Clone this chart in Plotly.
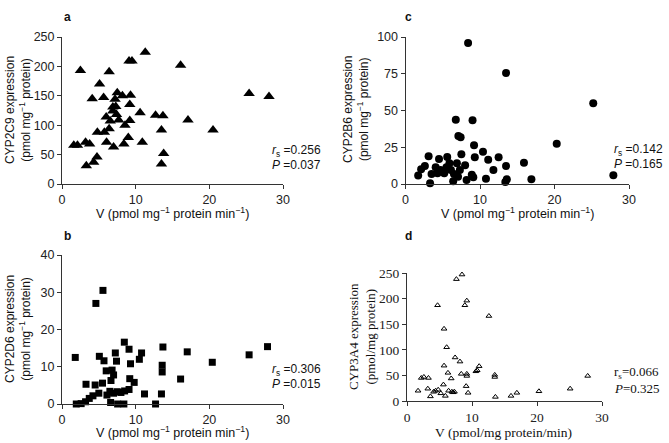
import plotly.graph_objects as go

W, H = 669, 443

# panel a: CYP2C9 expression vs V
a_v = [11.3, 9.1, 9.5, 2.5, 6.4, 16.1, 5.1, 4.1, 5.65, 7.5, 8.2, 9.3, 7.2, 25.4, 28.1,
       6.9, 7.3, 9.2, 6.9, 7.4, 6.0, 10.6, 12.7, 13.7, 6.55, 7.7, 9.2, 17.1, 8.55,
       4.8, 5.75, 6.4, 13.5, 20.5, 9.0, 1.6, 2.1, 3.2, 3.75, 6.05, 7.0, 8.4, 10.9,
       4.75, 13.8, 3.3, 4.3, 13.5]
a_expr = [224, 209, 209, 193, 191, 202, 170, 145, 147, 155, 150, 151, 144, 154, 149,
          131, 132, 135, 124, 118, 114, 121, 117, 116, 107, 109, 108, 109, 100,
          88, 88, 94, 92, 92, 79, 66, 66, 71, 68, 71, 63, 68, 71,
          46, 52, 31, 37, 34]

# panel b: CYP2D6 expression vs V
b_v = [5.56, 4.6, 8.46, 1.8, 5.07, 9.1, 7.24, 10.8, 13.7, 17.0, 27.9, 25.4, 5.7, 7.4,
       10.5, 9.3, 20.4, 13.6, 6.0, 6.8, 7.0, 13.6, 9.2, 16.1, 3.26, 4.5, 5.5, 6.65,
       9.8, 1.94, 2.6, 3.2, 3.7, 4.2, 5.0, 6.1, 6.5, 7.0, 7.5, 8.0, 8.5, 9.1, 6.6,
       7.55, 8.4, 12.7, 11.2, 13.5]
b_expr = [30.5, 27.0, 16.6, 12.5, 12.8, 14.7, 13.7, 13.7, 15.3, 14.0, 15.4, 13.2, 11.6, 11.5,
          12.0, 10.8, 11.2, 10.4, 8.9, 9.1, 7.8, 8.6, 6.8, 6.7, 5.3, 5.1, 5.6, 6.3,
          5.8, 0.0, 0.1, 0.6, 1.5, 2.2, 2.9, 2.4, 3.4, 2.9, 3.3, 3.1, 3.5, 3.9, 0.4,
          0.0, 0.0, 0.0, 2.7, 2.7]

# panel c: CYP2B6 expression vs V
c_v = [8.4, 13.5, 25.2, 6.75, 9.0, 7.1, 7.4, 9.2, 20.3, 10.4, 7.5, 3.1, 4.5, 5.6, 9.3,
       12.5, 11.1, 6.9, 13.5, 15.9, 1.7, 2.1, 2.6, 3.5, 4.05, 3.3, 4.3, 4.7, 5.2, 5.5,
       5.9, 6.1, 6.5, 6.4, 7.05, 7.3, 8.0, 8.2, 8.9, 9.1, 10.8, 11.8, 13.4, 13.6, 16.9, 27.9]
c_expr = [96, 75.5, 55, 43.7, 43.3, 32.7, 31.8, 26.3, 27.4, 22, 20.2, 18.8, 17, 18.4, 18.2,
          18.2, 16.5, 14.1, 12.2, 14.5, 5.7, 10, 12.2, 6.8, 11.4, 0.5, 7.3, 9.5, 7.3, 11.4,
          14.1, 9.5, 6.8, 1.8, 5, 9.5, 12.7, 2.7, 6.3, 4.6, 3.6, 9.5, 1.4, 3.2, 3.2, 5.9]

# panel d: CYP3A4 expression vs V
d_v = [1.7, 2.2, 2.6, 3.3, 3.2, 3.6, 4.1, 4.4, 4.8, 5.2, 5.6, 5.9, 6.1, 5.7, 4.7, 6.3,
       5.7, 6.4, 6.8, 6.9, 7.1, 7.3, 7.6, 7.4, 8.15, 8.35, 8.46, 8.9, 9.2, 9.2, 9.2,
       9.1, 9.4, 10.6, 10.8, 11.1, 12.6, 13.5, 13.5, 13.6, 16.0, 16.9, 20.3, 25.1, 27.8]
d_expr = [20, 45, 47, 45, 24, 9, 18, 20, 22, 15, 32, 10, 105, 141, 187, 55,
          69, 20, 44, 18, 17, 18, 238, 85, 77, 53, 247, 187, 196, 53, 49,
          29, 16, 58, 60, 68, 166, 51, 47, 8, 10, 16, 19, 24, 49]


def px(x):
    return x / W


def py(y):
    return 1 - y / H


SANS = "Liberation Sans, Arial, sans-serif"
SERIF = "Liberation Serif, Times New Roman, serif"
AX = "#333333"

fig = go.Figure()
fig.add_trace(go.Scatter(x=a_v, y=a_expr, xaxis="x", yaxis="y", mode="markers",
                         marker=dict(symbol="triangle-up", size=10, color="black")))
fig.add_trace(go.Scatter(x=b_v, y=b_expr, xaxis="x2", yaxis="y2", mode="markers",
                         marker=dict(symbol="square", size=7, color="black")))
fig.add_trace(go.Scatter(x=c_v, y=c_expr, xaxis="x3", yaxis="y3", mode="markers",
                         marker=dict(symbol="circle", size=8, color="black")))
fig.add_trace(go.Scatter(x=d_v, y=d_expr, xaxis="x4", yaxis="y4", mode="markers",
                         marker=dict(symbol="triangle-up-open", size=5, color="black",
                                     line=dict(width=1))))
for tr in fig.data:
    tr.cliponaxis = False
    tr.showlegend = False


def axis(dom, rng, tv, anchor, font, size=12.5):
    return dict(domain=dom, range=rng, tickvals=tv, anchor=anchor, showline=True,
                linecolor=AX, linewidth=1, ticks="outside", ticklen=4, tickcolor=AX,
                showgrid=False, zeroline=False, fixedrange=True, automargin=False,
                tickfont=dict(family=font, size=size, color="#222"))


fig.update_layout(
    width=W, height=H, margin=dict(l=0, r=0, t=0, b=0, autoexpand=False),
    paper_bgcolor="white", plot_bgcolor="white", showlegend=False,
    xaxis=axis([px(62), px(283)], [0, 30], [0, 10, 20, 30], "y", SANS),
    yaxis=axis([py(184), py(37)], [0, 250], [0, 50, 100, 150, 200, 250], "x", SANS),
    xaxis2=axis([px(62), px(283)], [0, 30], [0, 10, 20, 30], "y2", SANS),
    yaxis2=axis([py(404), py(255)], [0, 40], [0, 10, 20, 30, 40], "x2", SANS),
    xaxis3=axis([px(405.5), px(629)], [0, 30], [0, 10, 20, 30], "y3", SANS),
    yaxis3=axis([py(184), py(37)], [0, 100], [0, 25, 50, 75, 100], "x3", SANS),
    xaxis4=axis([px(407), px(602)], [0, 30], [0, 10, 20, 30], "y4", SERIF, 13.5),
    yaxis4=axis([py(401), py(273)], [0, 250], [0, 50, 100, 150, 200, 250], "x4", SERIF, 13.5),
)

ann = []


def text(x, y, s, font=SANS, size=12.5, angle=0, xanchor="center", weight="normal"):
    ann.append(dict(x=px(x), y=py(y), xref="paper", yref="paper", text=s, showarrow=False,
                    textangle=angle, xanchor=xanchor, yanchor="middle",
                    font=dict(family=font, size=size, color="#111", weight=weight)))


# panel letters
text(62, 17, "a", size=12, weight="bold", xanchor="left")
text(62, 236, "b", size=12, weight="bold", xanchor="left")
text(403, 17, "c", size=12, weight="bold", xanchor="left")
text(403, 236, "d", size=12, weight="bold", xanchor="left")

# axis titles
xt = "V (pmol mg<sup>−1</sup> protein min<sup>−1</sup>)"
text(172, 213, xt)
text(172, 432, xt)
text(517, 213, xt)
text(504, 432, "V (pmol/mg protein/min)", font=SERIF, size=13.5)
text(18, 110, "CYP2C9 expression<br>(pmol mg<sup>−1</sup> protein)", angle=-90, size=12)
text(18, 329, "CYP2D6 expression<br>(pmol mg<sup>−1</sup> protein)", angle=-90, size=12)
text(356, 110, "CYP2B6 expression<br>(pmol mg<sup>−1</sup> protein)", angle=-90, size=12)
text(362, 337, "CYP3A4 expression<br>(pmol/mg protein)", font=SERIF, size=13, angle=-90)

# statistics
text(270, 151, "<i>r</i><sub>s</sub> =0.256", xanchor="left", size=12)
text(270, 165, "<i>P</i> =0.037", xanchor="left", size=12)
text(270, 370, "<i>r</i><sub>s</sub> =0.306", xanchor="left", size=12)
text(270, 384, "<i>P</i> =0.015", xanchor="left", size=12)
text(612, 150, "<i>r</i><sub>s</sub> =0.142", xanchor="left", size=12)
text(612, 164, "<i>P</i> =0.165", xanchor="left", size=12)
text(612, 372, "r<sub>s</sub>=0.066", font=SERIF, size=13, xanchor="left")
text(612, 388, "<i>P</i>=0.325", font=SERIF, size=13, xanchor="left")

fig.update_layout(annotations=ann)
fig.write_html("out.html", config={"displayModeBar": False},
               post_script="document.body.style.margin='0';")
